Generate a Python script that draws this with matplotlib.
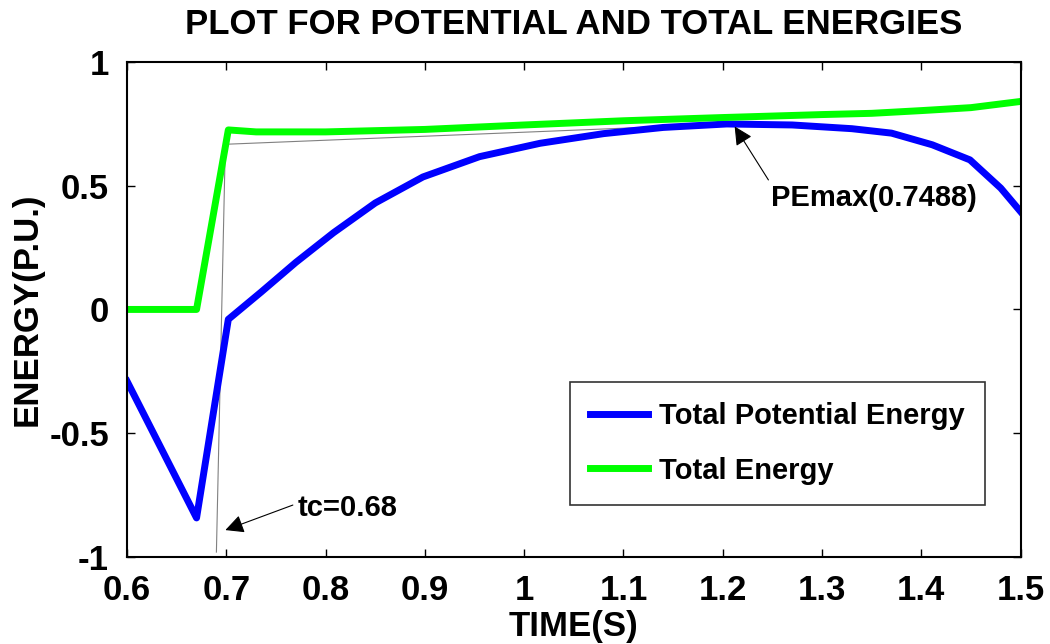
import matplotlib
matplotlib.use('Agg')
import matplotlib.pyplot as plt

# total potential energy (blue)
t_pe = [0.600, 0.670, 0.702, 0.735, 0.770, 0.808, 0.850, 0.898, 0.955, 1.016,
        1.080, 1.140, 1.204, 1.270, 1.330, 1.370, 1.411, 1.449, 1.480, 1.500]
pe = [-0.29, -0.842, -0.04, 0.07, 0.19, 0.31, 0.43, 0.535, 0.617, 0.671,
      0.710, 0.735, 0.749, 0.745, 0.730, 0.712, 0.665, 0.604, 0.49, 0.395]

# total energy (green)
t_te = [0.600, 0.670, 0.702, 0.730, 0.800, 0.900, 1.000, 1.100, 1.200,
        1.300, 1.350, 1.400, 1.450, 1.500]
te = [0.0, 0.0, 0.725, 0.717, 0.717, 0.727, 0.745, 0.762, 0.775,
      0.787, 0.792, 0.803, 0.815, 0.84]

# thin grey construction lines
t_vert = [0.690, 0.699]
v_vert = [-0.98, 0.667]
t_tan = [0.699, 1.204]
v_tan = [0.667, 0.7488]

x_ticks = [0.6, 0.7, 0.8, 0.9, 1.0, 1.1, 1.2, 1.3, 1.4, 1.5]
x_labels = ['0.6', '0.7', '0.8', '0.9', '1', '1.1', '1.2', '1.3', '1.4', '1.5']
y_ticks = [-1, -0.5, 0, 0.5, 1]
y_labels = ['-1', '-0.5', '0', '0.5', '1']

plt.rcParams['font.family'] = ['Liberation Sans', 'DejaVu Sans']
plt.rcParams['font.weight'] = 'bold'

fig = plt.figure(figsize=(10.5, 6.44), dpi=100)
ax = fig.add_axes([0.121, 0.135, 0.851, 0.769])

ax.plot(t_vert, v_vert, color='grey', lw=0.8)
ax.plot(t_tan, v_tan, color='grey', lw=0.8)
ax.plot(t_pe, pe, color='#0000ff', lw=5, label='Total Potential Energy', solid_joinstyle='round')
ax.plot(t_te, te, color='#00ff00', lw=5, label='Total Energy', solid_joinstyle='round')

ax.set_xlim(0.6, 1.5)
ax.set_ylim(-1, 1)
ax.set_xticks(x_ticks)
ax.set_xticklabels(x_labels)
ax.set_yticks(y_ticks)
ax.set_yticklabels(y_labels)
ax.tick_params(direction='in', length=6, width=1, top=True, right=True,
               labelsize=25)
ax.tick_params(axis='x', pad=12)
ax.tick_params(axis='y', pad=13)
for s in ax.spines.values():
    s.set_linewidth(1.5)

ax.set_title('PLOT FOR POTENTIAL AND TOTAL ENERGIES', fontsize=25,
             fontweight='bold', pad=20)
ax.set_xlabel('TIME(S)', fontsize=25, fontweight='bold', labelpad=2)
ax.set_ylabel('ENERGY(P.U.)', fontsize=25, fontweight='bold', labelpad=4)

leg = ax.legend(loc='lower right', bbox_to_anchor=(0.96, 0.105), fontsize=21,
                frameon=True, fancybox=False, edgecolor='black',
                handlelength=2.0, borderpad=0.7, labelspacing=0.9,
                handletextpad=0.35, borderaxespad=0)
leg.get_frame().set_linewidth(1.2)

ax.annotate('', xy=(0.699, -0.891), xytext=(0.767, -0.79),
            arrowprops=dict(arrowstyle='-|>', color='black', lw=0.8,
                            mutation_scale=28, shrinkA=0, shrinkB=0))
ax.text(0.772, -0.802, 'tc=0.68', fontsize=21, fontweight='bold',
        ha='left', va='center')

ax.annotate('', xy=(1.212, 0.739), xytext=(1.246, 0.523),
            arrowprops=dict(arrowstyle='-|>', color='black', lw=0.8,
                            mutation_scale=28, shrinkA=0, shrinkB=0))
ax.text(1.249, 0.45, 'PEmax(0.7488)', fontsize=21, fontweight='bold',
        ha='left', va='center')

fig.savefig('out.png', dpi=100)
